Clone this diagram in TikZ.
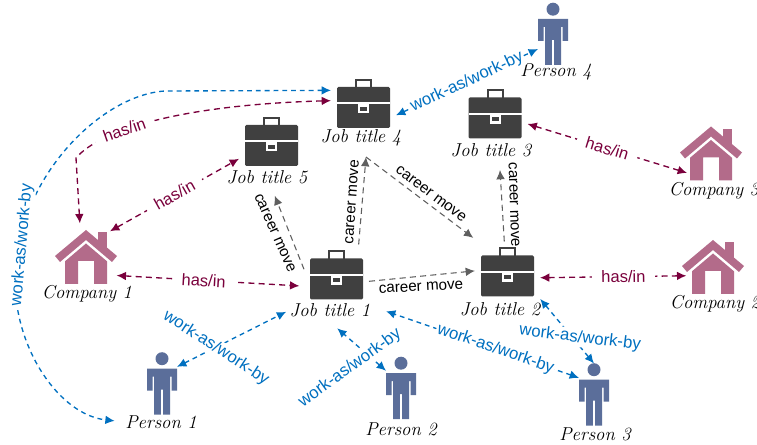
\documentclass[tikz,border=0pt]{standalone}
\usepackage{fontspec}
\setsansfont{Liberation Sans}
\usepackage{tikz}
\usetikzlibrary{arrows.meta}
\definecolor{hascolor}{RGB}{122,0,60}
\definecolor{workcolor}{RGB}{0,112,192}
\definecolor{movecolor}{RGB}{95,95,95}
\definecolor{casecolor}{RGB}{64,64,64}
\definecolor{housecolor}{RGB}{179,107,138}
\definecolor{personcolor}{RGB}{91,110,154}
\tikzset{
  casebox/.style={minimum width=39.75pt,minimum height=36.75pt,inner sep=0pt,outer sep=4.5pt},
  housebox/.style={minimum width=36pt,minimum height=40.5pt,inner sep=0pt,outer sep=0pt},
  personbox/.style={minimum width=22.5pt,minimum height=46.5pt,inner sep=0pt,outer sep=0pt},
  handtext/.style={font=\fontsize{14}{16}\selectfont\itshape,minimum height=15pt,inner sep=0pt,outer sep=0pt},
  casetext/.style={handtext,minimum width=60pt},
  housetext/.style={handtext,minimum width=70pt},
  persontext/.style={handtext,minimum width=51pt},
  hasline/.style={draw=hascolor,line width=1pt,dash pattern=on 4.5pt off 3.2pt,{Latex[length=7pt,width=6.5pt]}-{Latex[length=7pt,width=6.5pt]}},
  workline/.style={draw=workcolor,line width=1pt,dash pattern=on 3.6pt off 3pt,{Latex[length=7pt,width=6.5pt]}-{Latex[length=7pt,width=6.5pt]}},
  moveline/.style={draw=movecolor,line width=0.8pt,dash pattern=on 4.5pt off 3.2pt,-{Latex[length=7pt,width=6.5pt]}},
  haslabel/.style={font=\sffamily\fontsize{12.4}{14}\selectfont,text=hascolor,fill=white,inner xsep=7pt,inner ysep=1pt},
  worklabel/.style={font=\sffamily\fontsize{12.6}{14}\selectfont,text=workcolor,fill=white,inner sep=1pt},
  movelabel/.style={font=\sffamily\fontsize{11.4}{13}\selectfont,inner sep=0pt},
  pics/briefcase/.style={code={
    \draw[casecolor,line width=1.5pt] (-7.5,-23.5) rectangle (7.5,-15);
    \fill[casecolor,rounded corners=1pt] (-26.5,-16.5) rectangle (26.5,24.5);
    \fill[white] (-26.5,-1) rectangle (26.5,1);
    \fill[white] (-5.5,0) rectangle (5.5,10);
    \fill[casecolor] (-3.5,3.5) rectangle (3.5,7.5);
  }},
  pics/house/.style={code={
    \fill[housecolor] (0,-27) -- (31,-1) -- (26,5) -- (0,-17) -- (-26,5) -- (-31,-1) -- cycle;
    \fill[housecolor] (11.5,-24.5) rectangle (20.5,-9);
    \fill[housecolor] (0,-13.5) -- (21,4.3) -- (21,27) -- (8,27) -- (8,4) -- (-8,4) -- (-8,27) -- (-21,27) -- (-21,4.3) -- cycle;
  }},
  pics/person/.style={code={
    \fill[personcolor] (0,-24.8) circle (6.5);
    \fill[personcolor] (-15,-15) -- (15,-15) -- (15,7) -- (9.5,7) -- (9.5,-7) -- (8,-7) -- (8,31) -- (1.2,31) -- (1.2,6)
      -- (-1.2,6) -- (-1.2,31) -- (-8,31) -- (-8,-7) -- (-9.5,-7) -- (-9.5,7) -- (-15,7) -- cycle;
  }},
}

\begin{document}
\begin{tikzpicture}[x=0.75pt,y=-0.75pt]
  \useasboundingbox (0,0) rectangle (757,445);

  % job titles
  \node[casebox] (job1) at (336.5,275) {};
  \node[casebox] (job2) at (507.5,272) {};
  \node[casebox] (job3) at (495,114) {};
  \node[casebox] (job4) at (363.5,103.5) {};
  \node[casebox] (job5) at (271.5,141.5) {};
  \node[casetext] (jobtext1) at (330,310) {Job title 1};
  \node[casetext] (jobtext2) at (500,309) {Job title 2};
  \node[casetext] (jobtext3) at (491,150) {Job title 3};
  \node[casetext] (jobtext4) at (361,138) {Job title 4};
  \node[casetext] (jobtext5) at (267,177) {Job title 5};
  \pic at (job1) {briefcase};
  \pic at (job2) {briefcase};
  \pic at (job3) {briefcase};
  \pic at (job4) {briefcase};
  \pic at (job5) {briefcase};

  % companies
  \node[housebox] (com1) at (86,257) {};
  \node[housebox] (com2) at (713,267) {};
  \node[housebox] (com3) at (711,153.5) {};
  \node[housetext] (comtext1) at (87,294) {Company 1};
  \node[housetext] (comtext2) at (715,304) {Company 2};
  \node[housetext] (comtext3) at (714,191) {Company 3};
  \pic at (com1) {house};
  \pic at (com2) {house};
  \pic at (com3) {house};

  % persons
  \node[personbox] (per1) at (162,383.5) {};
  \node[personbox] (per2) at (401,388) {};
  \node[personbox] (per3) at (594,394.5) {};
  \node[personbox] (per4) at (553,34) {};
  \node[persontext] (pertext1) at (161,422) {Person 1};
  \node[persontext] (pertext2) at (401,429) {Person 2};
  \node[persontext] (pertext3) at (595,434) {Person 3};
  \node[persontext] (pertext4) at (556,72) {Person 4};
  \pic at (per1) {person};
  \pic at (per2) {person};
  \pic at (per3) {person};
  \pic at (per4) {person};

  % career moves
  \coordinate (movetop) at (366,157);
  \draw[moveline,shorten >=7pt] (job1.170) -- (jobtext5.-67);
  \draw[moveline] (job1.54) -- (movetop);
  \draw[moveline,shorten >=4.5pt] (movetop) -- (job2.134);
  \draw[moveline] (job1.-11) -- (job2.178);
  \draw[moveline,shorten >=7.5pt] (job2.96) -- (jobtext3.-50);
  \node[movelabel,rotate=-66] (movetext1) at (275,233) {career move};
  \node[movelabel,rotate=86] (movetext2) at (352,202) {career move};
  \node[movelabel,rotate=-37] (movetext3) at (431,194) {career move};
  \node[movelabel,rotate=3] (movetext4) at (421,287) {career move};
  \node[movelabel,rotate=-88] (movetext5) at (514,205) {career move};

  % has/in
  \draw[hasline] (com1.47) -- node[haslabel,sloped] (hastext1) {has/in} (job5.208);
  \draw[hasline,shorten <=5pt,shorten >=3.5pt] (com1.-37) -- node[haslabel,sloped,pos=.483] (hastext2) {has/in} (job1.199);
  \draw[hasline,shorten <=5pt] (com1.102) -- (76,158) .. controls (100,130) and (180,105) .. node[haslabel,sloped,pos=.36] (hastext3) {has/in} (job4.175);
  \draw[hasline] (job3.-17) -- node[haslabel,sloped] (hastext4) {has/in} (com3.219);
  \draw[hasline,shorten >=2pt] (job2.-10) -- node[haslabel,sloped,pos=.56] (hastext5) {has/in} (com2.200);

  % work-as/work-by
  \draw[workline,shorten >=8pt] (job4.158) -- (165,91) .. controls (100,95) and (15,180) .. (15,280) .. controls (15,350) and (60,415) .. (pertext1.west);
  \draw[workline] (job4.-20) -- node[worklabel,sloped] (worktext4) {work-as/work-by} (per4.225);
  \draw[workline,shorten >=3pt] (per1.48) -- (jobtext1.west);
  \draw[workline,shorten >=9.5pt] (per2.131) -- (jobtext1.-103);
  \draw[workline,shorten >=12.5pt] (per3.132) -- node[worklabel,sloped,pos=.4] (worktext3) {work-as/work-by} (jobtext1.6);
  \draw[workline] (jobtext2.north east) -- (per3.north);
  \node[worklabel,rotate=85] (worktext5) at (22,245) {work-as/work-by};
  \node[worklabel,rotate=-33] (worktext1) at (216,348) {work-as/work-by};
  \node[worklabel,rotate=36] (worktext2) at (350,368) {work-as/work-by};
  \node[worklabel,rotate=-7] (worktext6) at (580,338) {work-as/work-by};
\end{tikzpicture}
\end{document}
